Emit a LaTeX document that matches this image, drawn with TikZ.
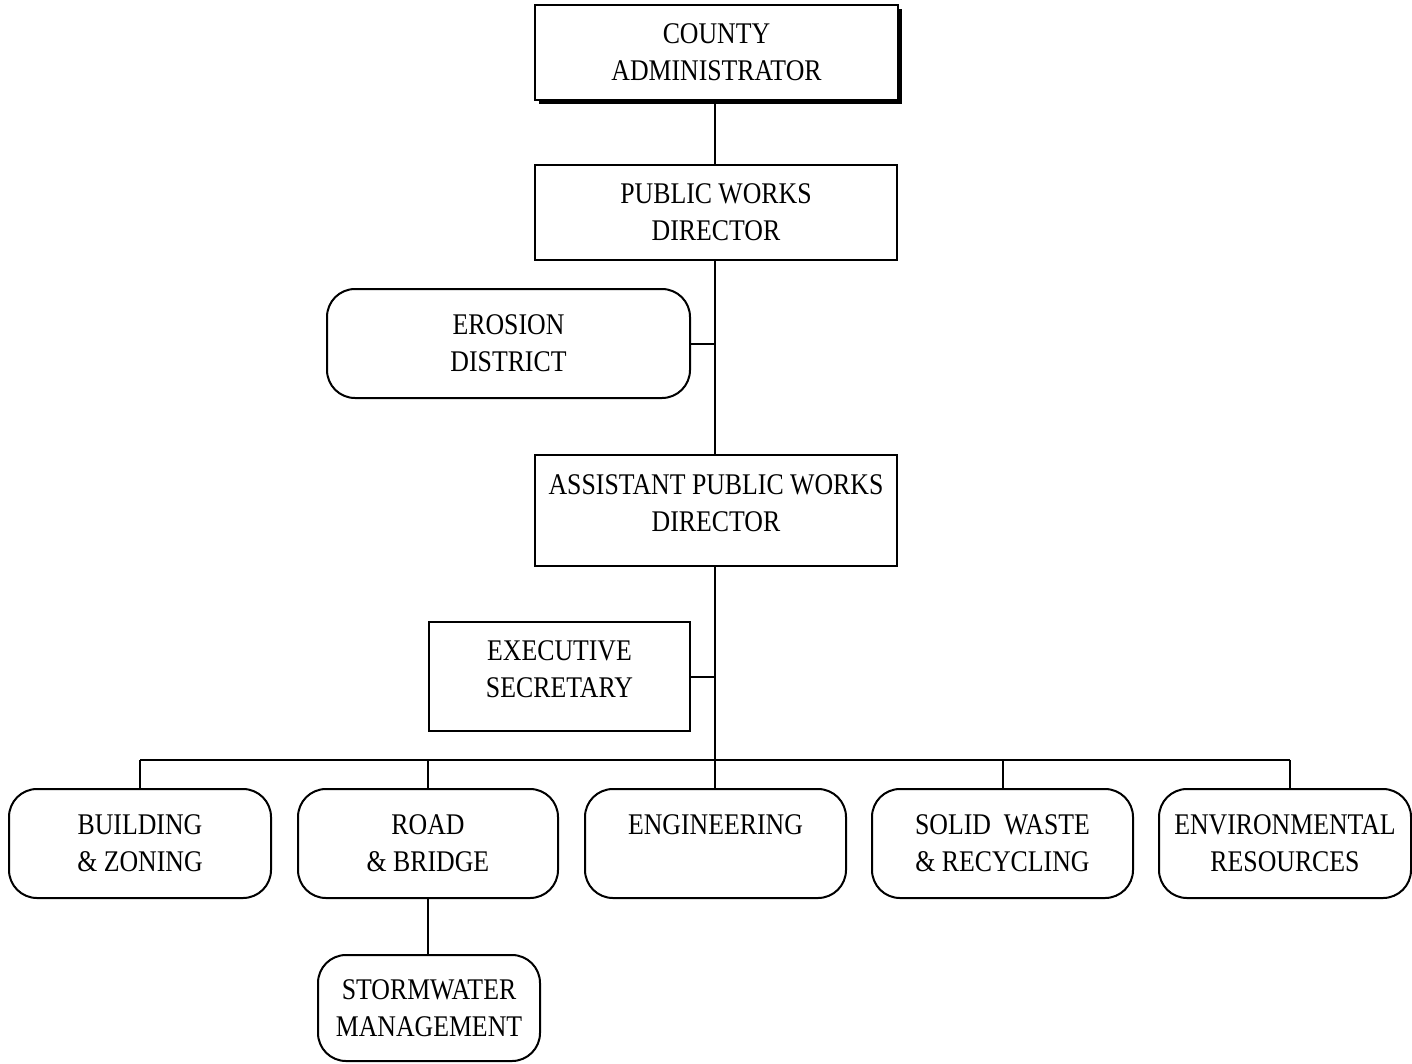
\documentclass[tikz,border=0pt]{standalone}
\usepackage{fontspec}
\setmainfont{Liberation Serif}[FakeStretch=0.86]
\begin{document}
\begin{tikzpicture}[x=1pt,y=-1pt,
  line width=2pt,
  every node/.style={inner sep=0pt,outer sep=0pt,align=center,
    font=\fontsize{30}{37}\selectfont},
  sqbox/.style={draw,fill=white,line width=2pt},
  rbox/.style={draw,fill=white,line width=2pt,rounded corners=28pt},
  link/.style={line width=2pt}]
\useasboundingbox (0,0) rectangle (1412,1063);

% top of the chain
\fill (539,9) rectangle (902,104);
\node[sqbox,minimum width=363pt,minimum height=95pt] (ca) at (716.5,52.5) {COUNTY\\ADMINISTRATOR};
\node[sqbox,minimum width=362pt,minimum height=95pt] (pw) at (716,212.5) {PUBLIC WORKS\\DIRECTOR};
\node[rbox,minimum width=363pt,minimum height=109pt] (ed) at (508.5,343.5) {EROSION\\DISTRICT};
\node[sqbox,minimum width=362pt,minimum height=111pt,text depth=14pt] (apw) at (716,510.5) {ASSISTANT PUBLIC WORKS\\DIRECTOR};
\node[sqbox,minimum width=261pt,minimum height=109pt,text depth=14pt] (es) at (559.5,676.5) {EXECUTIVE\\SECRETARY};

% divisions
\node[rbox,minimum width=262pt,minimum height=109pt] (bz) at (140,843.5) {BUILDING\\\& ZONING};
\node[rbox,minimum width=260pt,minimum height=109pt] (rb) at (428,843.5) {ROAD\\\& BRIDGE};
\node[rbox,minimum width=261pt,minimum height=109pt,text depth=37pt] (eng) at (715.5,843.5) {ENGINEERING};
\node[rbox,minimum width=261pt,minimum height=109pt] (sw) at (1002.5,843.5) {SOLID~ WASTE\\\& RECYCLING};
\node[rbox,minimum width=252pt,minimum height=109pt] (er) at (1285,843.5) {ENVIRONMENTAL\\RESOURCES};
\node[rbox,minimum width=222pt,minimum height=106pt] (sm) at (429,1008) {STORMWATER\\MANAGEMENT};

% connectors
\coordinate (bus) at (715,760);
\coordinate (busl) at (140,760);
\coordinate (busr) at (1290,760);
\draw[link] (ca.south -| bus) -- (pw.north -| bus);
\draw[link] (pw.south -| bus) -- (apw.north -| bus);
\draw[link] (ed.east) -- (ed.east -| bus);
\draw[link] (apw.south -| bus) -- (bus);
\draw[link] (es.east) -- (es.east -| bus);
\draw[link] (busl) -- (busr);
\draw[link] (busl) -- (bz.north -| busl);
\draw[link] (rb.north) -- (rb.north |- bus);
\draw[link] (eng.north -| bus) -- (bus);
\draw[link] (sw.north) -- (sw.north |- bus);
\draw[link] (busr) -- (er.north -| busr);
\draw[link] (rb.south) -- (sm.north -| rb.south);
\end{tikzpicture}
\end{document}
